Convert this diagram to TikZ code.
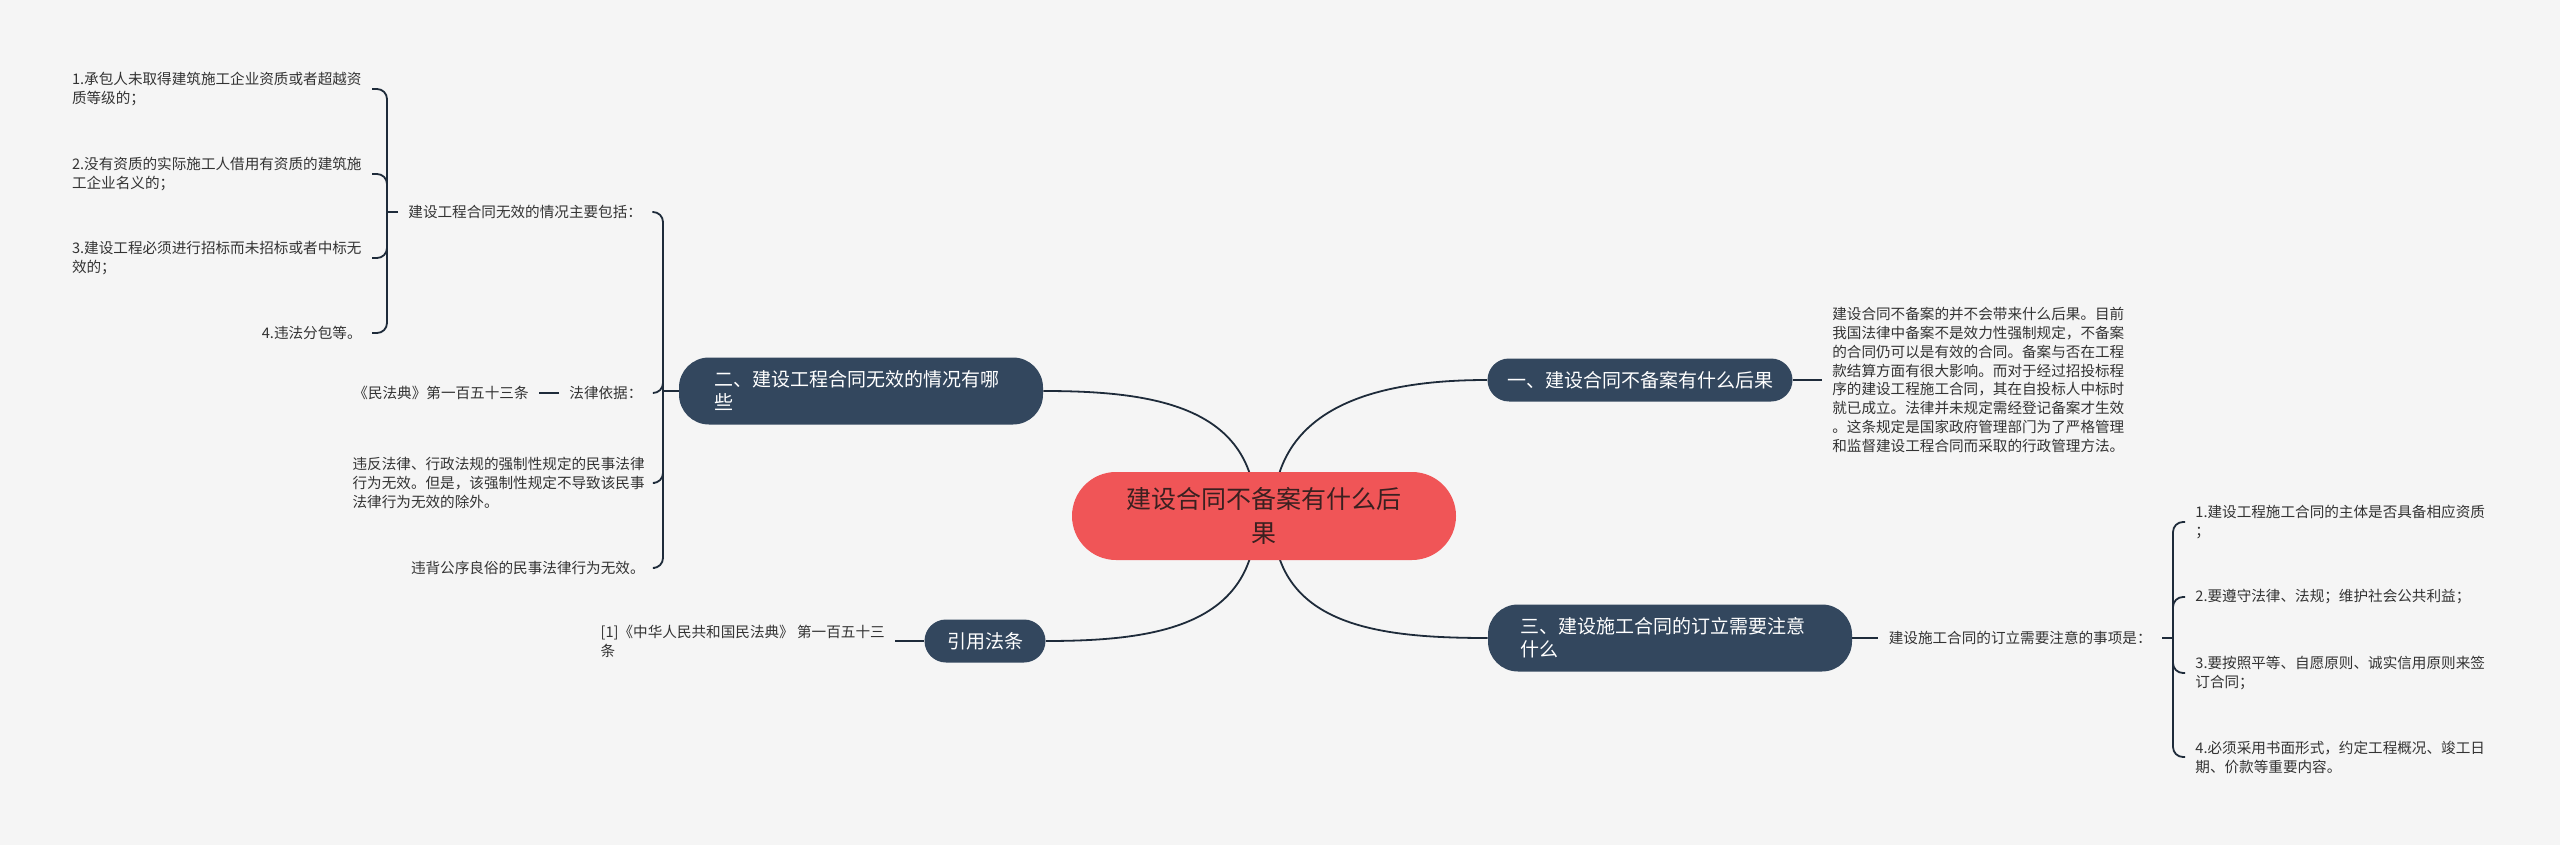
\documentclass[tikz,border=0pt]{standalone}
\usepackage{fontspec}
\setmainfont{Noto Sans CJK SC}
\usetikzlibrary{positioning}
\definecolor{mapbg}{HTML}{F5F5F5}
\definecolor{maproot}{HTML}{F05557}
\definecolor{maproottext}{HTML}{3A2020}
\definecolor{mapnavy}{HTML}{33475E}
\definecolor{mapline}{HTML}{1E2B3A}
\definecolor{maptext}{HTML}{333333}
\tikzset{
    root/.style={fill=maproot,text=maproottext,rounded corners=22pt,minimum width=192pt,minimum height=44pt,align=center,font=\fontsize{12.5}{17}\selectfont},
    topic/.style={fill=mapnavy,text=white,align=left,inner sep=0pt,font=\fontsize{9.5}{11.5}\selectfont},
    pill/.style={topic,minimum height=21.5pt,rounded corners=10.75pt},
    tall/.style={topic,minimum height=33.5pt,rounded corners=15pt},
    leaf/.style={text=maptext,align=left,inner xsep=5pt,inner ysep=1pt,font=\fontsize{7.3}{9.5}\selectfont},
    link/.style={draw=mapline,line width=0.9pt},
    brace/.style={link,rounded corners=5pt},
}

\begin{document}
\begin{tikzpicture}[x=0.5pt,y=-0.5pt]
    \fill[mapbg] (0,0) rectangle (2560,845);

    \node[pill,minimum width=152.5pt] (b1) at (1640,380) {一、建设合同不备案有什么后果};
    \node[tall,minimum width=182pt,text width=147pt] (b2) at (861,391) {二、建设工程合同无效的情况有哪\\些};
    \node[tall,minimum width=182pt,text width=150pt] (b3) at (1670,638) {三、建设施工合同的订立需要注意\\什么};
    \node[pill,minimum width=60.5pt] (cite) at (985,641) {引用法条};

    \coordinate (rr) at (1273,516);
    \coordinate (rl) at (1256,516);
    \draw[link] (rr) .. controls +(0,-110) and +(-110,0) .. (b1.west);
    \draw[link] (rl) .. controls +(0,-110) and +(110,0) .. (b2.east);
    \draw[link] (rr) .. controls +(0,110) and +(-110,0) .. (b3.west);
    \draw[link] (rl) .. controls +(0,110) and +(110,0) .. (cite.east);

    \node[root] (root) at (1264,516) {建设合同不备案有什么后\\果};

    % 一
    \node[leaf,right=14.5pt of b1,font=\fontsize{7.3}{9.4}\selectfont] (note1) {建设合同不备案的并不会带来什么后果。目前\\我国法律中备案不是效力性强制规定，不备案\\的合同仍可以是有效的合同。备案与否在工程\\款结算方面有很大影响。而对于经过招投标程\\序的建设工程施工合同，其在自投标人中标时\\就已成立。法律并未规定需经登记备案才生效\\。这条规定是国家政府管理部门为了严格管理\\和监督建设工程合同而采取的行政管理方法。};
    \draw[link] (b1.east) -- (note1.west);

    % 二
    \coordinate (j2) at (663,391);
    \node[leaf,anchor=west] (c21) at (398,212) {建设工程合同无效的情况主要包括：};
    \node[leaf,anchor=west] (c22) at (559,393) {法律依据：};
    \node[leaf,left=10pt of c22] (c22a) {《民法典》第一百五十三条};
    \node[leaf,anchor=east] (c23) at (655,483) {违反法律、行政法规的强制性规定的民事法律\\行为无效。但是，该强制性规定不导致该民事\\法律行为无效的除外。};
    \node[leaf,anchor=east] (c24) at (655,568) {违背公序良俗的民事法律行为无效。};
    \draw[link] (b2.west) -- (j2);
    \foreach \c in {c21,c22,c23,c24}
        \draw[brace] (j2) |- (\c.east);
    \draw[link] (c22.west) -- (c22a.east);

    \coordinate (j21) at (387,212);
    \node[leaf,anchor=east] (l1) at (372,89) {1.承包人未取得建筑施工企业资质或者超越资\\质等级的；};
    \node[leaf,anchor=east] (l2) at (372,174) {2.没有资质的实际施工人借用有资质的建筑施\\工企业名义的；};
    \node[leaf,anchor=east] (l3) at (372,258) {3.建设工程必须进行招标而未招标或者中标无\\效的；};
    \node[leaf,anchor=east] (l4) at (372,333) {4.违法分包等。};
    \draw[link] (c21.west) -- (j21);
    \foreach \c in {l1,l2,l3,l4}
        \draw[brace] (j21) |- (\c.east);

    % 三
    \coordinate (j3) at (2173,638);
    \node[leaf,right=13pt of b3] (c31) {建设施工合同的订立需要注意的事项是：};
    \node[leaf,anchor=west] (r1) at (2185,522) {1.建设工程施工合同的主体是否具备相应资质\\；};
    \node[leaf,anchor=west] (r2) at (2185,597) {2.要遵守法律、法规；维护社会公共利益；};
    \node[leaf,anchor=west] (r3) at (2185,673) {3.要按照平等、自愿原则、诚实信用原则来签\\订合同；};
    \node[leaf,anchor=west] (r4) at (2185,757) {4.必须采用书面形式，约定工程概况、竣工日\\期、价款等重要内容。};
    \draw[link] (b3.east) -- (c31.west);
    \draw[link] (c31.east) -- (j3);
    \foreach \c in {r1,r2,r3,r4}
        \draw[brace] (j3) |- (\c.west);

    % 引用法条
    \node[leaf,left=14.5pt of cite] (cite1) {[1]《中华人民共和国民法典》 第一百五十三\\条};
    \draw[link] (cite.west) -- (cite1.east);
\end{tikzpicture}
\end{document}
